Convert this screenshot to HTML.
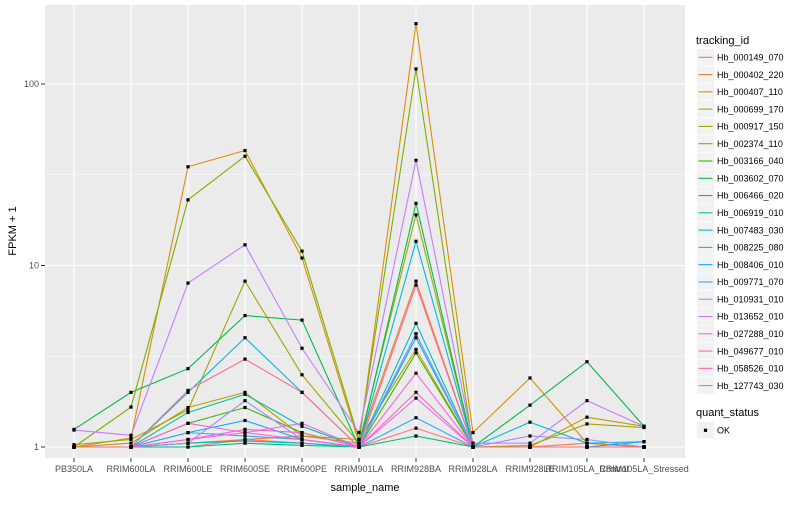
<!DOCTYPE html>
<html><head><meta charset="utf-8"><style>
body{margin:0;background:#fff;font-family:"Liberation Sans",sans-serif;}
svg text{font-family:"Liberation Sans",sans-serif;}
</style></head><body>
<svg id="chart" width="800" height="500" xmlns="http://www.w3.org/2000/svg">
<rect x="45" y="5" width="640" height="453" fill="#EBEBEB"/>
<g id="grid"></g><g id="lines"></g><g id="pts"></g><g id="axes"></g><g id="legend"></g>
<text x="365" y="491" font-size="11" text-anchor="middle" fill="#000">sample_name</text>
<text transform="translate(16,231) rotate(-90)" font-size="11" text-anchor="middle" fill="#000">FPKM + 1</text>
</svg>
<script>
const categories=["PB350LA","RRIM600LA","RRIM600LE","RRIM600SE","RRIM600PE","RRIM901LA","RRIM928BA","RRIM928LA","RRIM928LE","RRIM105LA_Control","RRIM105LA_Stressed"];
const seriesNames=["Hb_000149_070","Hb_000402_220","Hb_000407_110","Hb_000699_170","Hb_000917_150","Hb_002374_110","Hb_003166_040","Hb_003602_070","Hb_006466_020","Hb_006919_010","Hb_007483_030","Hb_008225_080","Hb_008406_010","Hb_009771_070","Hb_010931_010","Hb_013652_010","Hb_027288_010","Hb_049677_010","Hb_058526_010","Hb_127743_030"];
const s000149=[1,1,1,1.1,1.05,1,1.27,1,1,1,1];
const s000402=[1,1,1.05,1.1,1.15,1.05,8.2,1,1,1.05,1];
const s000407=[1,1.12,35,43,11,1.05,215,1.2,2.4,1.05,1];
const s000699=[1,1.05,1.65,2.0,1.15,1.1,3.45,1,1,1.46,1.3];
const s000917=[1.03,1.1,1.6,8.2,2.5,1.05,19,1,1.02,1.34,1.28];
const s002374=[1,1.66,23,40,12,1.1,121,1,1,1,1];
const s003166=[1,1,1.35,1.65,1.2,1,3.3,1,1,1,1];
const s003602=[1.25,2.0,2.7,5.3,5,1,22,1,1.7,2.95,1.3];
const s006466=[1,1,1,1.05,1.02,1,1.15,1,1,1,1];
const s006919=[1,1,1.55,1.95,1.3,1,4.2,1,1,1,1];
const s007483=[1,1,1.05,1.08,1.05,1,4.8,1,1,1,1];
const s008225=[1,1,2,4,2,1,13.6,1,1.37,1.05,1.07];
const s008406=[1,1,1.2,1.4,1.1,1,4.0,1,1,1,1.07];
const s009771=[1,1,1.2,1.15,1.1,1,1.45,1,1,1,1];
const s010931=[1,1,1.05,1.8,1.1,1,4.2,1,1.15,1.1,1];
const s013652=[1.24,1.16,8,13,3.5,1.2,38,1.05,1.05,1.8,1.3];
const s027288=[1,1,1.1,1.2,1.35,1,1.86,1,1,1,1];
const s049677=[1,1,1.35,1.2,1.1,1,2.55,1,1,1,1];
const s058526=[1,1,1.1,1.25,1.2,1,2.0,1,1,1,1];
const s127743=[1,1,2.05,3.05,2,1,7.8,1,1,1,1];
const seriesValues=[s000149,s000402,s000407,s000699,s000917,s002374,s003166,s003602,s006466,s006919,s007483,s008225,s008406,s009771,s010931,s013652,s027288,s049677,s058526,s127743];
const yTicks=[1,10,100];
const yMinor=[3.1623,31.623];
const colors=["#F8766D","#EA8331","#D89000","#C09B00","#A3A500","#7CAE00","#39B600","#00BB4E","#00BF7D","#00C1A3","#00BFC4","#00BAE0","#00B0F6","#35A2FF","#9590FF","#C77CFF","#E76BF3","#FA62DB","#FF62BC","#FF6C91"];
const NS="http://www.w3.org/2000/svg";
function el(t,a,p){const e=document.createElementNS(NS,t);for(const k in a)e.setAttribute(k,a[k]);p.appendChild(e);return e;}
function xs(i){return 74+i*57;}
function ys(v){return 447-Math.log10(v)*181.5;}
const grid=document.getElementById('grid'),lines=document.getElementById('lines'),pts=document.getElementById('pts'),axes=document.getElementById('axes'),leg=document.getElementById('legend');
yMinor.forEach(v=>{const l=el('line',{x1:45,x2:685,y1:ys(v),y2:ys(v),stroke:'#fff','stroke-width':0.6},grid);

});
yTicks.forEach(v=>{const l=el('line',{x1:45,x2:685,y1:ys(v),y2:ys(v),stroke:'#fff','stroke-width':1.1},grid);


const tk=el('line',{x1:41,x2:45,y1:ys(v),y2:ys(v),stroke:'#333','stroke-width':1},axes);


const t=el('text',{x:39,y:ys(v)+3,'font-size':9,'text-anchor':'end',fill:'#4D4D4D'},axes);t.textContent=v;

});
categories.forEach((c,i)=>{const l=el('line',{x1:xs(i),x2:xs(i),y1:5,y2:458,stroke:'#fff','stroke-width':1.1},grid);


const tk=el('line',{x1:xs(i),x2:xs(i),y1:458,y2:462,stroke:'#333','stroke-width':1},axes);


const t=el('text',{x:xs(i),y:472,'font-size':9,'text-anchor':'middle',fill:'#4D4D4D'},axes);t.textContent=c;

});
seriesValues.forEach((s,k)=>{const d=s.map((v,i)=>(i?'L':'M')+xs(i)+','+ys(v)).join(' ');
const p=el('path',{d:d,fill:'none',stroke:colors[k],'stroke-width':1.1},lines);


s.forEach((v,i)=>{const r=el('rect',{x:xs(i)-1.6,y:ys(v)-1.6,width:3.2,height:3.2,fill:'#000'},pts);

});});
const lt=el('text',{x:696,y:44,'font-size':11,fill:'#000'},leg);lt.textContent='tracking_id';


seriesNames.forEach((n,k)=>{const cy=57.3+k*17.28;
const g=el('g',{},leg);


el('rect',{x:697,y:cy-8.3,width:17,height:16.6,fill:'#F2F2F2'},g);
el('line',{x1:698.5,x2:712.5,y1:cy,y2:cy,stroke:colors[k],'stroke-width':1.1},g);
const t=el('text',{x:717,y:cy+3.2,'font-size':9,fill:'#000'},g);t.textContent=n;});
const qt=el('text',{x:696,y:416,'font-size':11,fill:'#000'},leg);qt.textContent='quant_status';


const g2=el('g',{},leg);


el('rect',{x:697,y:422,width:17,height:16.6,fill:'#F2F2F2'},g2);
el('rect',{x:703.9,y:428.7,width:3.2,height:3.2,fill:'#000'},g2);
const ok=el('text',{x:717,y:433.5,'font-size':9,fill:'#000'},g2);ok.textContent='OK';
</script>
</body></html>
